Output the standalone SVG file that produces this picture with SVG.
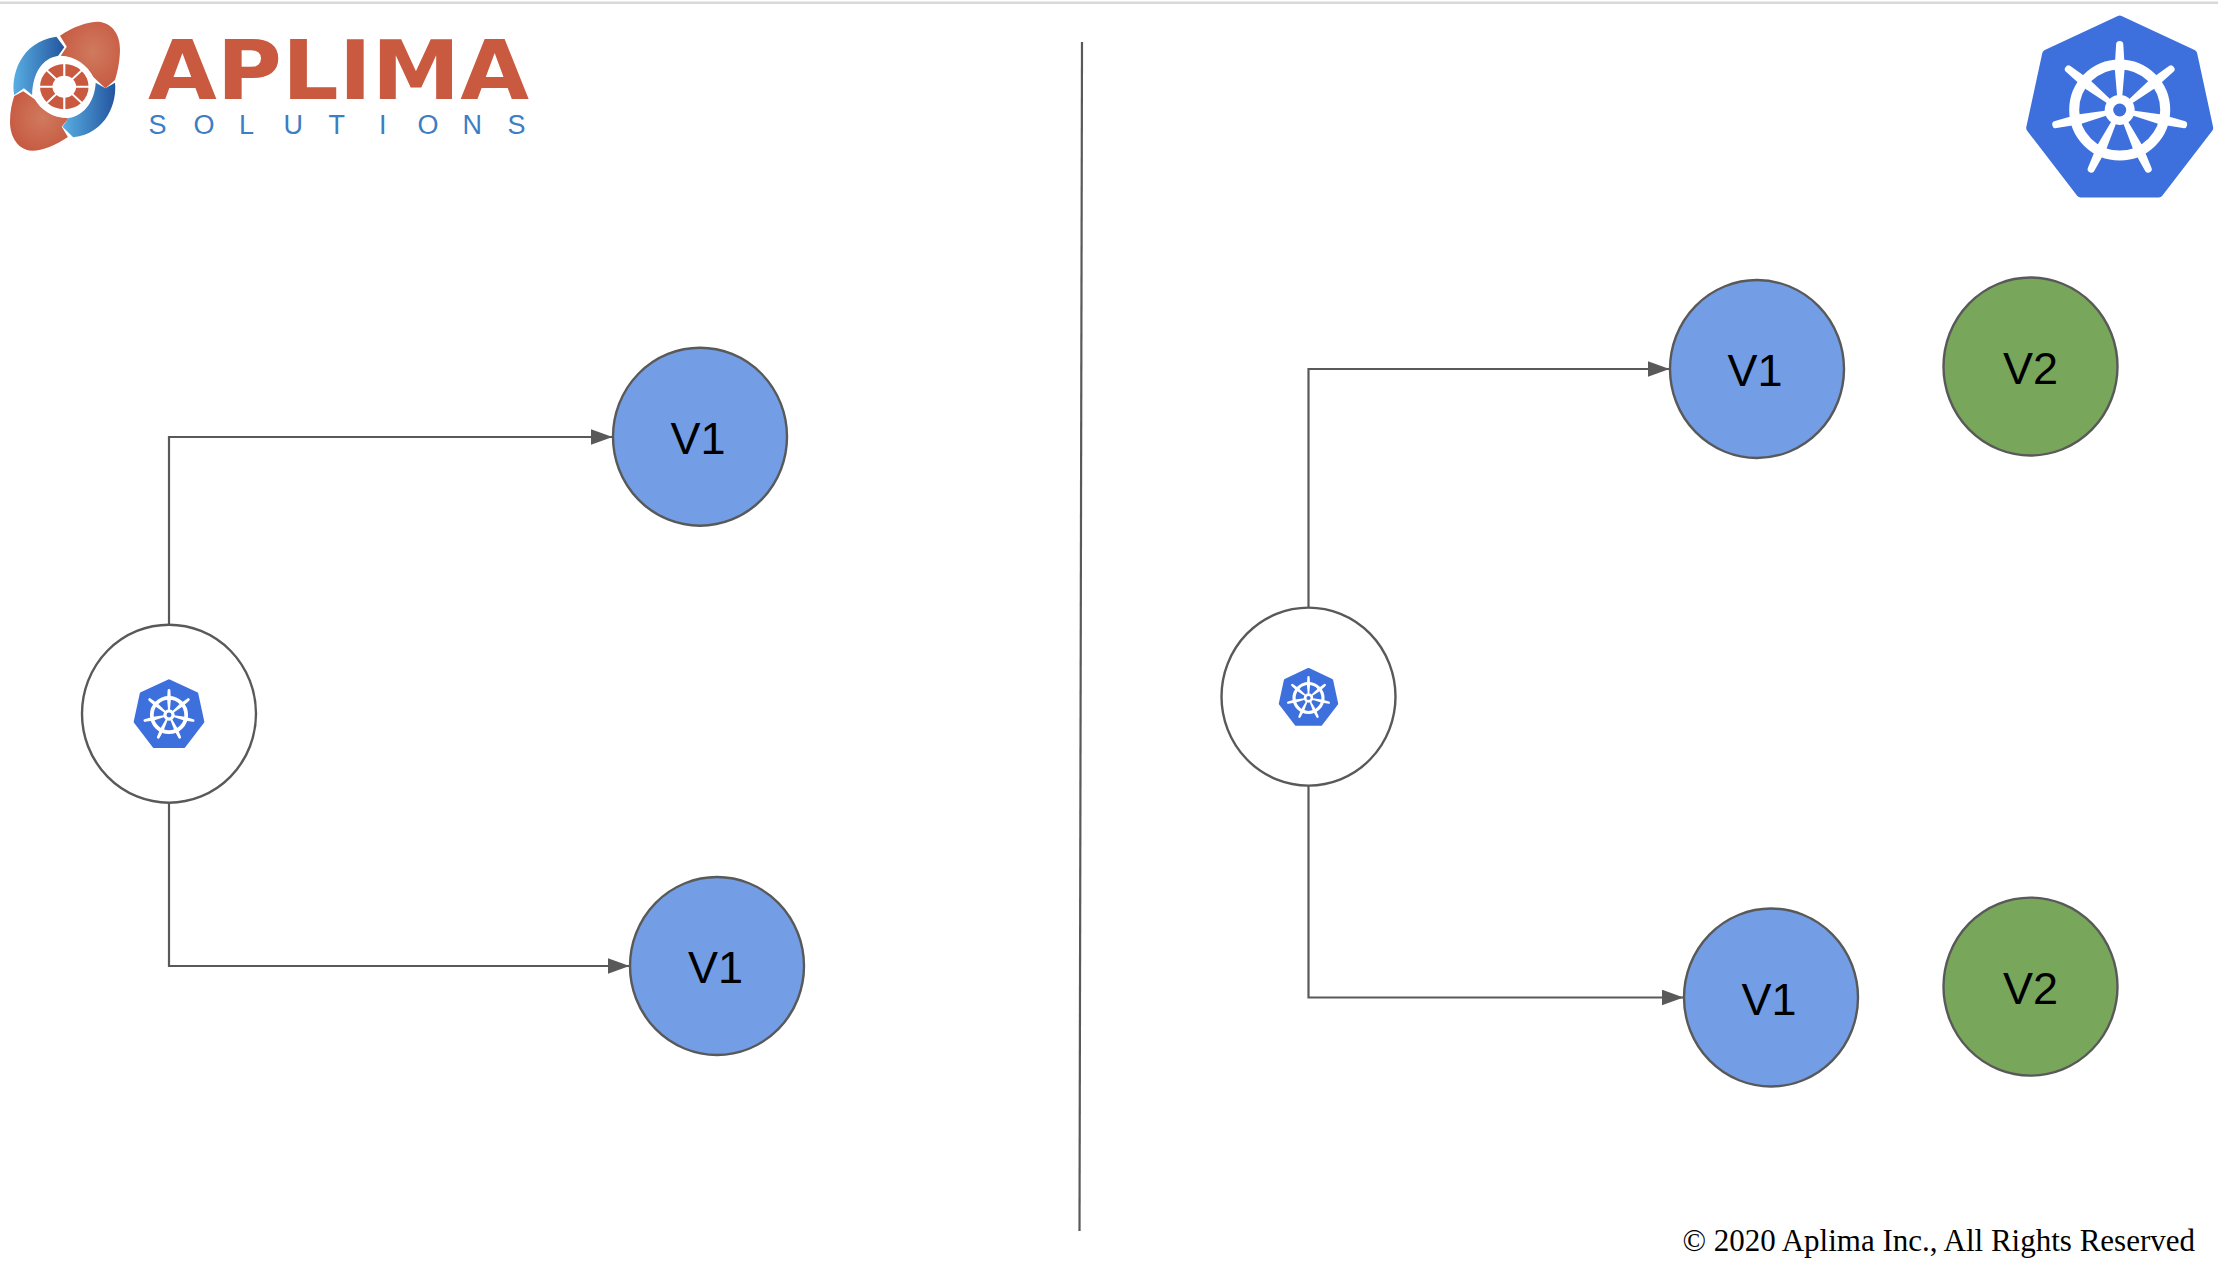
<svg xmlns="http://www.w3.org/2000/svg" xmlns:xlink="http://www.w3.org/1999/xlink" width="2218" height="1266" viewBox="0 0 2218 1266">
<style>
.edge{fill:none;stroke:#595959;stroke-width:2.2}
.node{stroke:#595959;stroke-width:2.4}
.v1{fill:#739EE5}
.v2{fill:#78A65A}
.white{fill:#fff}
.lbl{font-family:"Liberation Sans",Arial,sans-serif;font-size:45px;text-anchor:middle;fill:#000}
</style>
<defs>
<marker id="arrow" markerUnits="userSpaceOnUse" markerWidth="24" markerHeight="18" refX="22" refY="8" orient="auto"><path d="M0,0L22,8L0,16Z" fill="#595959"/></marker>
<linearGradient id="blueA" x1="0" y1="0" x2="1" y2="0"><stop offset="0" stop-color="#58AEE2"/><stop offset="1" stop-color="#24559F"/></linearGradient>
<radialGradient id="redA" cx=".55" cy=".45" r=".6"><stop offset="0" stop-color="#D07A5E"/><stop offset="1" stop-color="#C65A41"/></radialGradient>
<g id="spoke"><path d="M-2.5,-13L-5,-42L-3.6,-65.5a3.6,3.6 0 0 1 7.2,0L5,-42L2.5,-13Z" fill="#fff"/></g>
<g id="kube">
<path d="M0,-90L73,-56L89,18L39,83L-39,83L-89,18L-73,-56Z" fill="#3E70DD" stroke="#3E70DD" stroke-width="9" stroke-linejoin="round"/>
<circle r="45.5" fill="none" stroke="#fff" stroke-width="10"/>
<use xlink:href="#spoke"/>
<use xlink:href="#spoke" transform="rotate(51.43)"/>
<use xlink:href="#spoke" transform="rotate(102.86)"/>
<use xlink:href="#spoke" transform="rotate(154.29)"/>
<use xlink:href="#spoke" transform="rotate(205.71)"/>
<use xlink:href="#spoke" transform="rotate(257.14)"/>
<use xlink:href="#spoke" transform="rotate(308.57)"/>
<circle r="15" fill="#fff"/>
<circle r="6.5" fill="#3E70DD"/>
</g>
</defs>
<rect width="2218" height="1266" fill="#fff"/>
<rect x="0" y="1.5" width="2218" height="2.5" fill="#D9D9D9"/>

<g id="aplima-logo">
<g transform="scale(.35714,.33333)">
<path d="M168,107C205,80 245,65 275,65C315,68 337,105 336,150C335,190 328,220 322,240L295,265L262,232C245,195 210,168 170,167L187,140Z" fill="url(#redA)"/>
<path d="M190,411C155,436 120,452 90,452C50,450 28,410 28,365C28,335 33,310 40,288L65,274L97,298C115,330 145,354 192,355L173,380Z" fill="url(#redA)"/>
<path d="M158,110L180,142L163,167C120,175 92,215 90,285L67,265L40,285C30,230 55,125 158,110Z" fill="url(#blueA)"/>
<path d="M205,412L175,380L192,354C240,345 265,300 268,248L295,265L322,248C328,305 300,400 205,412Z" fill="url(#blueA)"/>
<circle cx="180" cy="260" r="68" fill="#C9593F"/>
<g stroke="#fff" stroke-width="6">
<path d="M180,188V332M108,260H252M129,209L231,311M231,209L129,311"/>
</g>
<circle cx="180" cy="260" r="33" fill="#fff"/>
</g>
<text x="148" y="99" font-family="'DejaVu Sans',sans-serif" font-weight="700" font-size="82" fill="#C9593F" textLength="381" lengthAdjust="spacingAndGlyphs">APLIMA</text>
<text x="148.5 193.5 239 283.5 328.5 379 417.5 462.5 507.5" y="133.5" font-family="'Liberation Sans',sans-serif" font-size="27" fill="#3B7EC4">SOLUTIONS</text>
</g>

<g id="kubernetes-logo"><use xlink:href="#kube" transform="translate(2119.7,110)"/></g>

<g id="divider"><path class="edge" d="M1082,42L1079.5,1231"/></g>

<g id="connectors">
<path class="edge" marker-end="url(#arrow)" d="M169,624V437H612.5"/>
<path class="edge" marker-end="url(#arrow)" d="M169,803V966H629.5"/>
<path class="edge" marker-end="url(#arrow)" d="M1308.5,607V369H1669.5"/>
<path class="edge" marker-end="url(#arrow)" d="M1308.5,786V997.5H1683.5"/>
</g>

<g id="lb-left"><ellipse class="node white" cx="169" cy="713.7" rx="87" ry="89"/><use xlink:href="#kube" transform="translate(169,715) scale(.378)"/></g>
<g id="v1-left-top"><ellipse class="node v1" cx="700" cy="436.7" rx="87" ry="89"/><text class="lbl" x="698" y="454">V1</text></g>
<g id="v1-left-bottom"><ellipse class="node v1" cx="717" cy="966" rx="87" ry="89"/><text class="lbl" x="715.5" y="982.5">V1</text></g>
<g id="lb-right"><ellipse class="node white" cx="1308.5" cy="696.6" rx="87" ry="89"/><use xlink:href="#kube" transform="translate(1308.5,698) scale(.318)"/></g>
<g id="v1-right-top"><ellipse class="node v1" cx="1757" cy="369" rx="87" ry="89"/><text class="lbl" x="1755" y="385.5">V1</text></g>
<g id="v2-right-top"><ellipse class="node v2" cx="2030.5" cy="366.5" rx="87" ry="89"/><text class="lbl" x="2030.5" y="384">V2</text></g>
<g id="v1-right-bottom"><ellipse class="node v1" cx="1771" cy="997.5" rx="87" ry="89"/><text class="lbl" x="1769" y="1014.5">V1</text></g>
<g id="v2-right-bottom"><ellipse class="node v2" cx="2030.5" cy="986.6" rx="87" ry="89"/><text class="lbl" x="2030.5" y="1003.5">V2</text></g>

<text id="copyright" x="2195" y="1251" text-anchor="end" font-family="'Liberation Serif','Times New Roman',serif" font-size="31" fill="#000">© 2020 Aplima Inc., All Rights Reserved</text>
</svg>
